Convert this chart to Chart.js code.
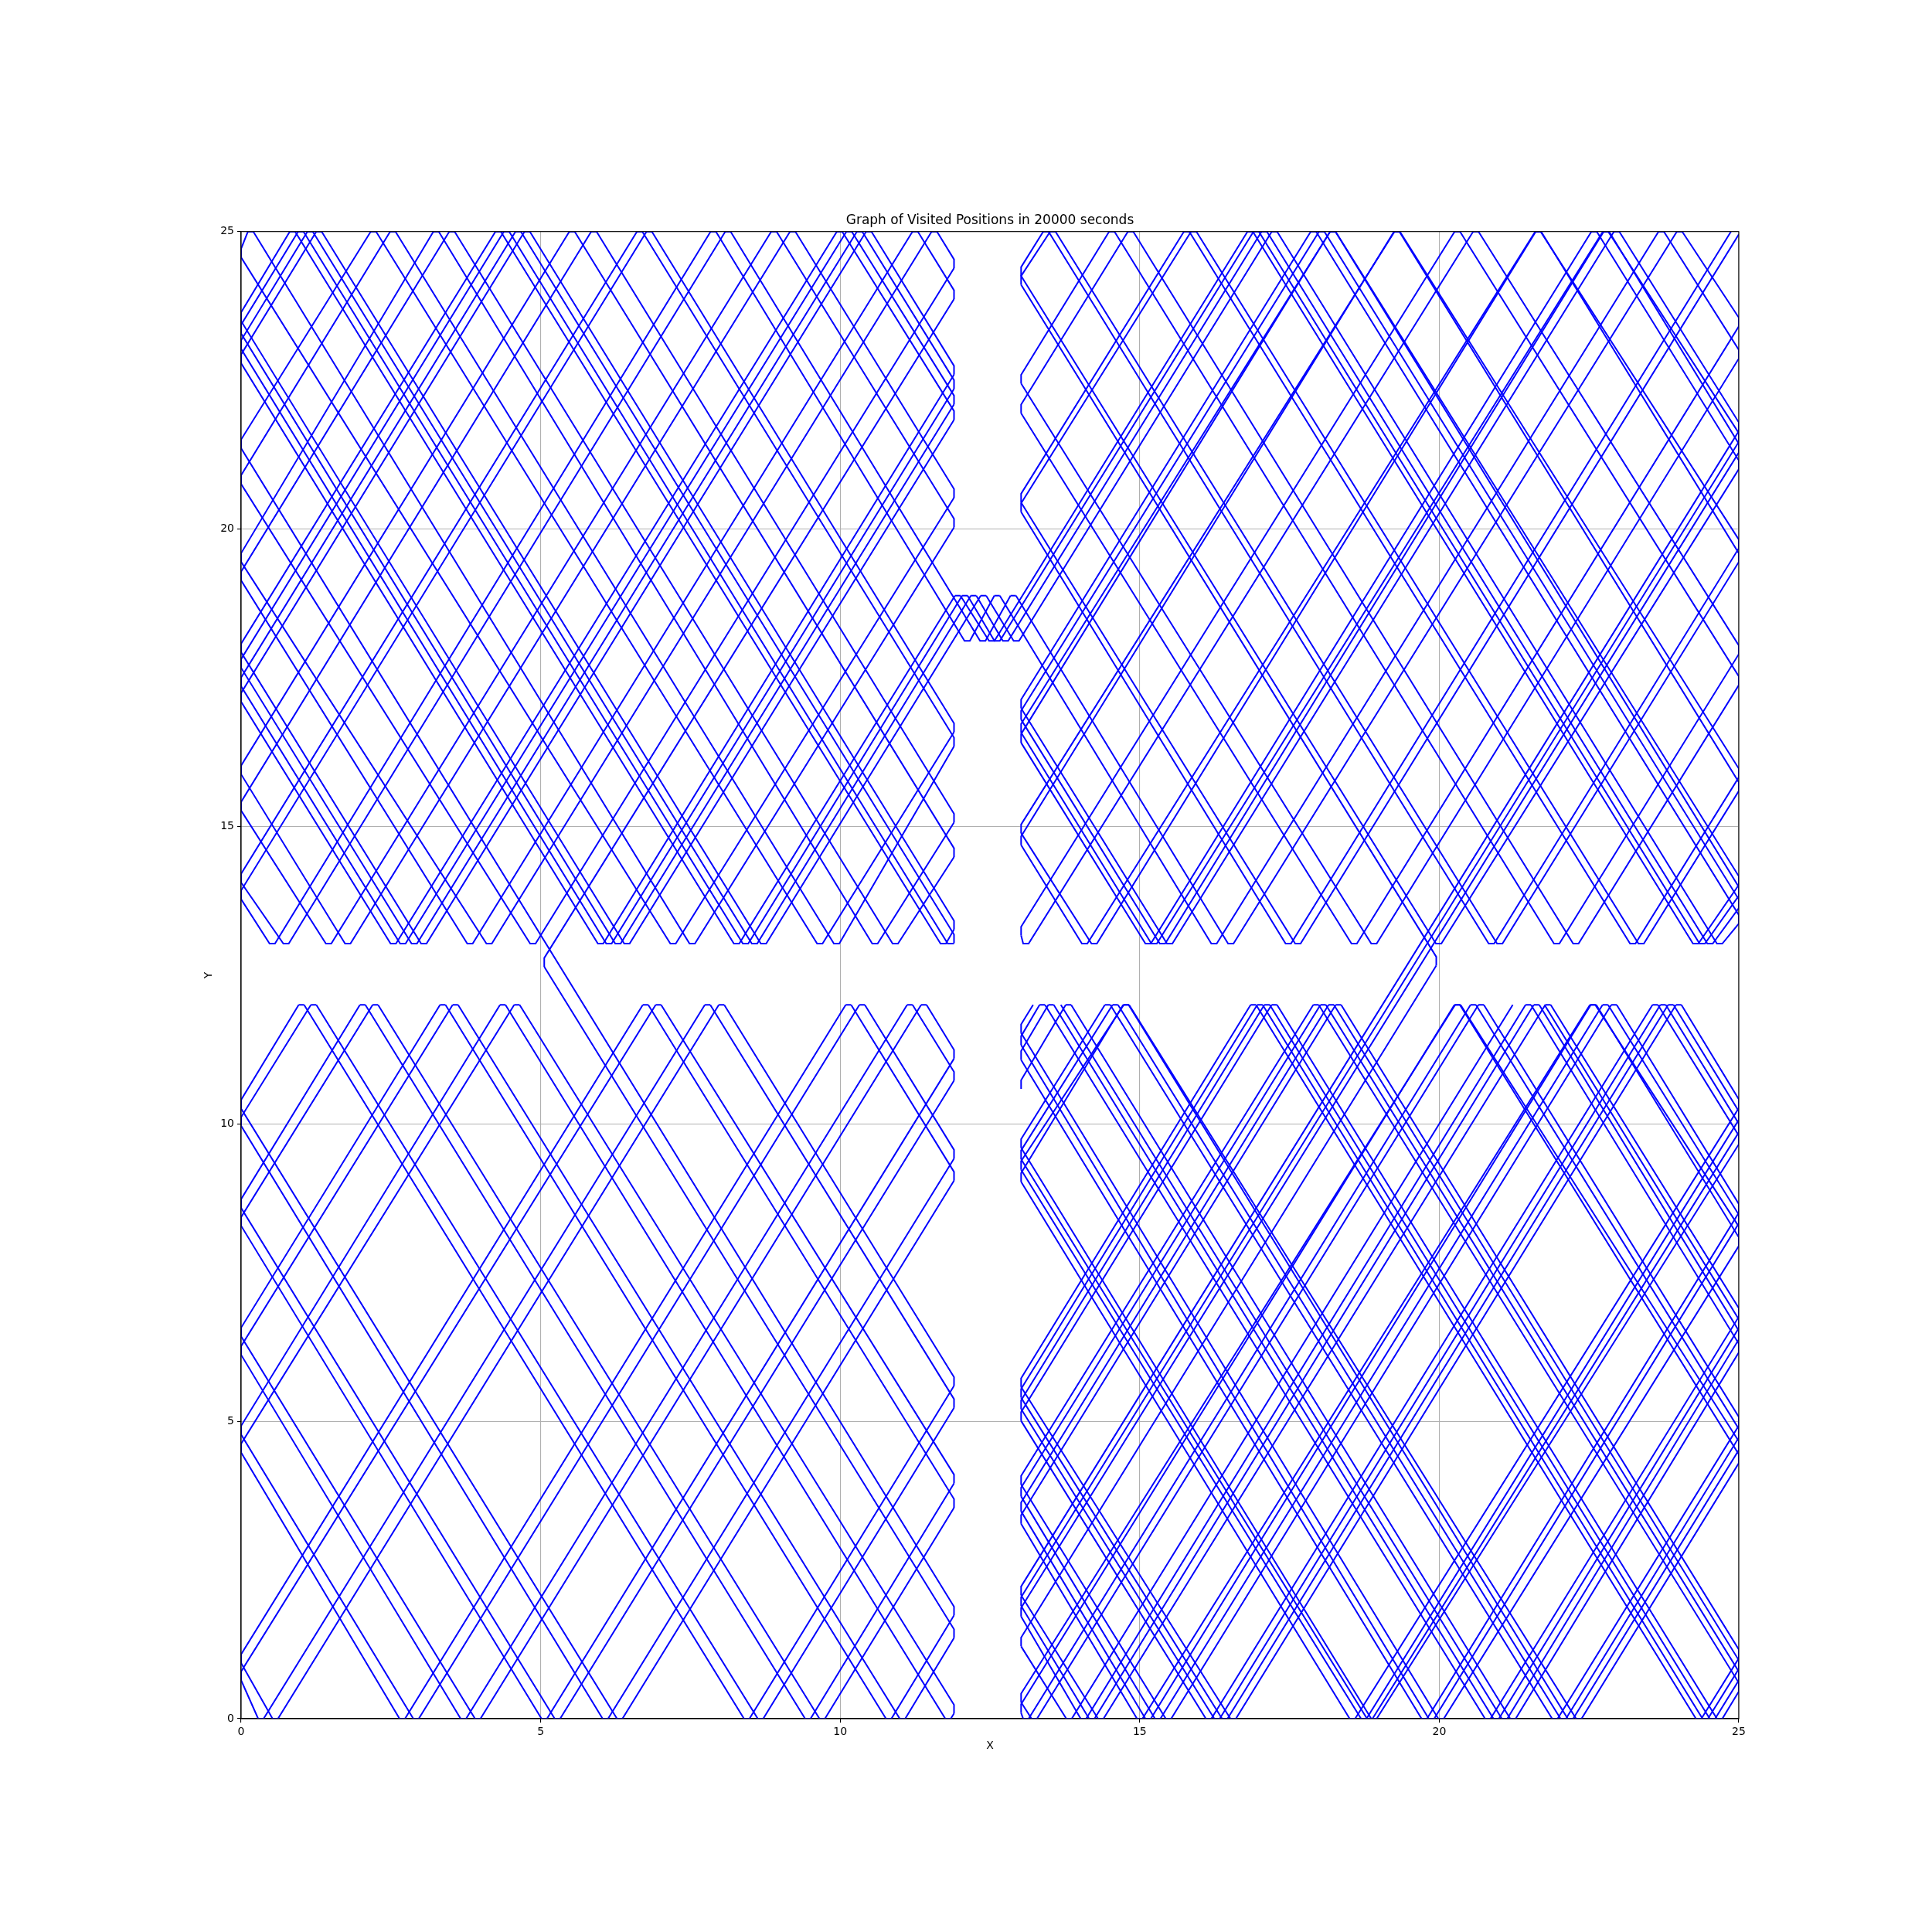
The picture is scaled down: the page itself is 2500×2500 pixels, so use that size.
<!DOCTYPE html>
<html>
<head>
<meta charset="utf-8">
<script src="https://cdn.jsdelivr.net/npm/chart.js@4.4.1/dist/chart.umd.min.js"></script>
<style>
  html, body { margin: 0; padding: 0; background: #ffffff; }
  canvas { display: block; }
</style>
</head>
<body>
<canvas id="c" width="2500" height="2500" style="width:2500px;height:2500px"></canvas>
<script>
// ---------------- values ----------------
const TITLE = 'Graph of Visited Positions in 20000 seconds';
const X_LABEL = 'X';
const Y_LABEL = 'Y';
const xTicks = [0, 5, 10, 15, 20, 25];
const yTicks = [0, 5, 10, 15, 20, 25];

// |dy/dx| of every straight run of the path
const SLOPE = 1.63;

// areas the path can reach: [xmin, xmax, ymin, ymax]
const roomTopLeft     = [0, 11.9, 13.03, 25];
const roomTopRight    = [13.02, 25, 13.03, 25];
const roomBottomLeft  = [0, 11.9, 0, 12];
const roomBottomRight = [13.02, 25, 0, 12];
const corridorMiddle  = [11.9, 13.02, 18.12, 18.88];
const doorLeft        = [5.06, 5.95, 12, 13.03];
const doorRight       = [18.85, 19.95, 12, 13.03];

// bounce points: x on the floors, y on the side walls
const tlBottom = [0.52, 0.75, 1.46, 1.78, 2.54, 2.70, 2.89, 3.05, 3.82, 4.14, 4.87, 6.00, 6.14, 6.29, 6.44, 7.21, 7.53, 8.27, 8.42, 8.57, 8.72, 9.66, 9.94, 10.58, 10.92, 11.72, 11.84];
const tlLeft   = [24.64, 23.57, 23.36, 23.10, 22.86, 21.43, 20.83, 19.52, 19.21, 18.00, 17.74, 17.43, 17.17, 15.95, 15.34, 14.13, 13.85];
const tlRight  = [24.46, 23.94, 22.67, 22.43, 22.17, 21.91, 20.60, 20.10, 16.66, 16.42, 15.14, 14.56, 13.34, 13.11];

const trBottom = [13.10, 14.08, 14.24, 15.14, 15.24, 15.38, 15.50, 16.24, 16.52, 17.48, 17.64, 18.58, 18.91, 19.99, 20.87, 21.01, 21.96, 22.28, 23.23, 23.37, 24.28, 24.39, 24.52, 24.68];
const trLeft   = [24.33, 24.18, 22.52, 22.02, 20.52, 20.36, 17.06, 16.87, 16.65, 16.48, 14.96, 14.76, 13.24];
const trRight  = [23.48, 22.94, 21.72, 21.54, 21.36, 21.08, 19.75, 19.52, 17.97, 17.45, 15.90, 15.67, 14.09, 13.91, 13.70, 13.44];

const blBottom = [0.33, 0.57, 2.69, 2.92, 3.71, 3.95, 5.06, 5.28, 6.08, 6.32, 8.44, 8.67, 9.46, 9.70, 10.81, 11.04, 11.80];
const blLeft   = [10.33, 10.04, 8.66, 8.36, 6.50, 6.19, 4.85, 4.55, 1.01, 0.72];
const blRight  = [11.17, 10.80, 9.49, 9.12, 5.67, 5.30, 4.03, 3.62, 1.81, 1.43, 0.16];

const brBottom = [13.10, 13.24, 13.82, 14.06, 14.20, 14.35, 15.00, 15.14, 15.30, 15.48, 16.15, 16.29, 16.42, 16.56, 18.55, 18.74, 18.84, 18.91, 19.75, 19.87, 20.03, 20.81, 20.95, 21.09, 21.23, 21.93, 22.07, 22.19, 22.33, 24.33, 24.44, 24.56, 24.68];
const brLeft   = [11.60, 11.40, 11.15, 10.66, 9.67, 9.48, 9.30, 9.10, 5.65, 5.47, 5.28, 5.08, 4.01, 3.81, 3.56, 3.35, 2.15, 1.97, 1.79, 1.29, 0.35, 0.17];
const brRight  = [10.34, 10.14, 9.93, 9.73, 8.58, 8.40, 8.20, 8.02, 6.83, 6.64, 6.45, 6.23, 5.00, 4.80, 4.59, 4.37, 1.09, 0.91, 0.72, 0.53];

const corridorBottom   = [12.12, 12.38, 12.53, 12.62, 12.76, 12.94];
const doorLeftBounceY  = [12.715];
const doorRightBounceY = [12.735];

// ---------------- path geometry in data space ----------------
const regions = [roomTopLeft, roomTopRight, roomBottomLeft, roomBottomRight, corridorMiddle, doorLeft, doorRight];
const CW = 0.045, CH = CW * SLOPE, EPS = 1e-9;
function inside(x, y) {
  for (const r of regions) if (x >= r[0] - EPS && x <= r[1] + EPS && y >= r[2] - EPS && y <= r[3] + EPS) return true;
  return false;
}
// follow one straight run until it meets a wall
function run(x0, y0, sx, sy) {
  const h = 0.004; let x = x0, y = y0;
  for (let i = 0; i < 20000; i++) {
    const nx = x + sx * h, ny = y + sy * h * SLOPE;
    if (!inside(nx, ny)) {
      let lo = 0, hi = h;
      for (let k = 0; k < 30; k++) { const m = (lo + hi) / 2; if (inside(x + sx * m, y + sy * m * SLOPE)) lo = m; else hi = m; }
      return { x: x + sx * lo, y: y + sy * lo * SLOPE, sx };
    }
    x = nx; y = ny;
  }
  return { x, y, sx };
}
const paths = [], ends = [], sideStarts = [];
function floorBounces(xs, yF) {
  xs.forEach(x0 => {
    const a = run(x0 - CW, yF, -1, 1), b = run(x0 + CW, yF, 1, 1);
    paths.push([a, { x: x0 - CW, y: yF }, { x: x0 + CW, y: yF }, b]); ends.push(a, b);
  });
}
function sideBounces(ys, xW, dir) {
  ys.forEach(y0 => {
    const e = run(xW, y0 + CH, dir, 1);
    paths.push([{ x: xW, y: y0 - CH }, { x: xW, y: y0 + CH }, e]); ends.push(e);
    sideStarts.push({ x: xW, y: y0, dir, used: false });
  });
}
floorBounces(tlBottom, roomTopLeft[2]);     sideBounces(tlLeft, roomTopLeft[0], 1);     sideBounces(tlRight, roomTopLeft[1], -1);
floorBounces(trBottom, roomTopRight[2]);    sideBounces(trLeft, roomTopRight[0], 1);    sideBounces(trRight, roomTopRight[1], -1);
floorBounces(blBottom, roomBottomLeft[2]);  sideBounces(blLeft, roomBottomLeft[0], 1);  sideBounces(blRight, roomBottomLeft[1], -1);
floorBounces(brBottom, roomBottomRight[2]); sideBounces(brLeft, roomBottomRight[0], 1); sideBounces(brRight, roomBottomRight[1], -1);
floorBounces(corridorBottom, corridorMiddle[2]);
sideBounces(doorLeftBounceY, doorLeft[0], 1);
sideBounces(doorRightBounceY, doorRight[1], -1);

// join arriving runs to the bounce they belong to
const topLevels = [roomTopLeft[3], roomBottomLeft[3], corridorMiddle[3]];
const tops = [], sides = [];
ends.forEach(e => { if (topLevels.some(t => Math.abs(e.y - t) < 1e-6)) tops.push(e); else sides.push(e); });
sides.forEach(e => {
  let best = null, bd = 0.35;
  sideStarts.forEach(s => {
    if (s.used || Math.abs(s.x - e.x) > 1e-6 || s.dir !== -e.sx) return;
    const d = Math.abs(e.y - (s.y - CH));
    if (d < bd) { bd = d; best = s; }
  });
  if (best) { best.used = true; e.y = best.y - CH; }
});
const pairs = [];
tops.forEach(p => { if (p.sx !== 1) return; tops.forEach(n => {
  if (n.sx !== -1 || Math.abs(n.y - p.y) > 1e-6) return;
  const d = n.x - p.x; if (d > -0.25 && d < 0.45) pairs.push({ p, n, q: Math.abs(d - 2 * CW) });
}); });
pairs.sort((a, b) => a.q - b.q);
const usedTop = new Set();
pairs.forEach(({ p, n }) => {
  if (usedTop.has(p) || usedTop.has(n)) return;
  usedTop.add(p); usedTop.add(n);
  const c = (p.x + n.x) / 2; p.x = c - CW; n.x = c + CW;
  paths.push([{ x: p.x, y: p.y }, { x: n.x, y: n.y }]);
});

const datasets = paths.map(p => ({
  data: p.map(q => ({ x: q.x, y: q.y })),
  showLine: true, borderColor: '#0000ff', borderWidth: 2,
  pointRadius: 0, pointHoverRadius: 0, fill: false, tension: 0
}));

const frame = {
  id: 'frame',
  afterDatasetsDraw(chart) {
    const a = chart.chartArea, g = chart.ctx;
    g.save(); g.strokeStyle = '#000000'; g.lineWidth = 1.1;
    g.strokeRect(a.left, a.top, a.right - a.left, a.bottom - a.top); g.restore();
  }
};

const FONT = 'DejaVu Sans';
new Chart(document.getElementById('c'), {
  type: 'scatter',
  data: { datasets },
  plugins: [frame],
  options: {
    responsive: false, animation: false, devicePixelRatio: 1, events: [],
    layout: { padding: { left: 0, right: 250, top: 0, bottom: 0 } },
    plugins: {
      legend: { display: false }, tooltip: { enabled: false },
      title: { display: true, text: TITLE, fullSize: false, color: '#000000',
        font: { family: FONT, size: 17, weight: 'normal', lineHeight: 1.2 }, padding: { top: 275, bottom: 4.3 } }
    },
    scales: {
      x: { type: 'linear', min: 0, max: 25,
        afterBuildTicks: s => { s.ticks = xTicks.map(v => ({ value: v })); },
        ticks: { color: '#000000', font: { family: FONT, size: 14 }, padding: 4, maxRotation: 0 },
        grid: { color: '#b0b0b0', lineWidth: 1.1, tickColor: '#000000', tickLength: 5, tickWidth: 1.1 },
        border: { display: true, color: '#000000', width: 1.1 },
        title: { display: true, text: X_LABEL, color: '#000000', font: { family: FONT, size: 14, lineHeight: 1.2 }, padding: { top: 4, bottom: 232 } },
        afterFit: s => { s.height = 276; } },
      y: { type: 'linear', min: 0, max: 25,
        afterBuildTicks: s => { s.ticks = yTicks.map(v => ({ value: v })); },
        ticks: { color: '#000000', font: { family: FONT, size: 14 }, padding: 4 },
        grid: { color: '#b0b0b0', lineWidth: 1.1, tickColor: '#000000', tickLength: 5, tickWidth: 1.1 },
        border: { display: true, color: '#000000', width: 1.1 },
        title: { display: true, text: Y_LABEL, color: '#000000', font: { family: FONT, size: 14, lineHeight: 1.2 }, padding: { top: 262, bottom: 4 } },
        afterFit: s => { s.width = 312; } }
    }
  }
});
</script>
</body>
</html>
